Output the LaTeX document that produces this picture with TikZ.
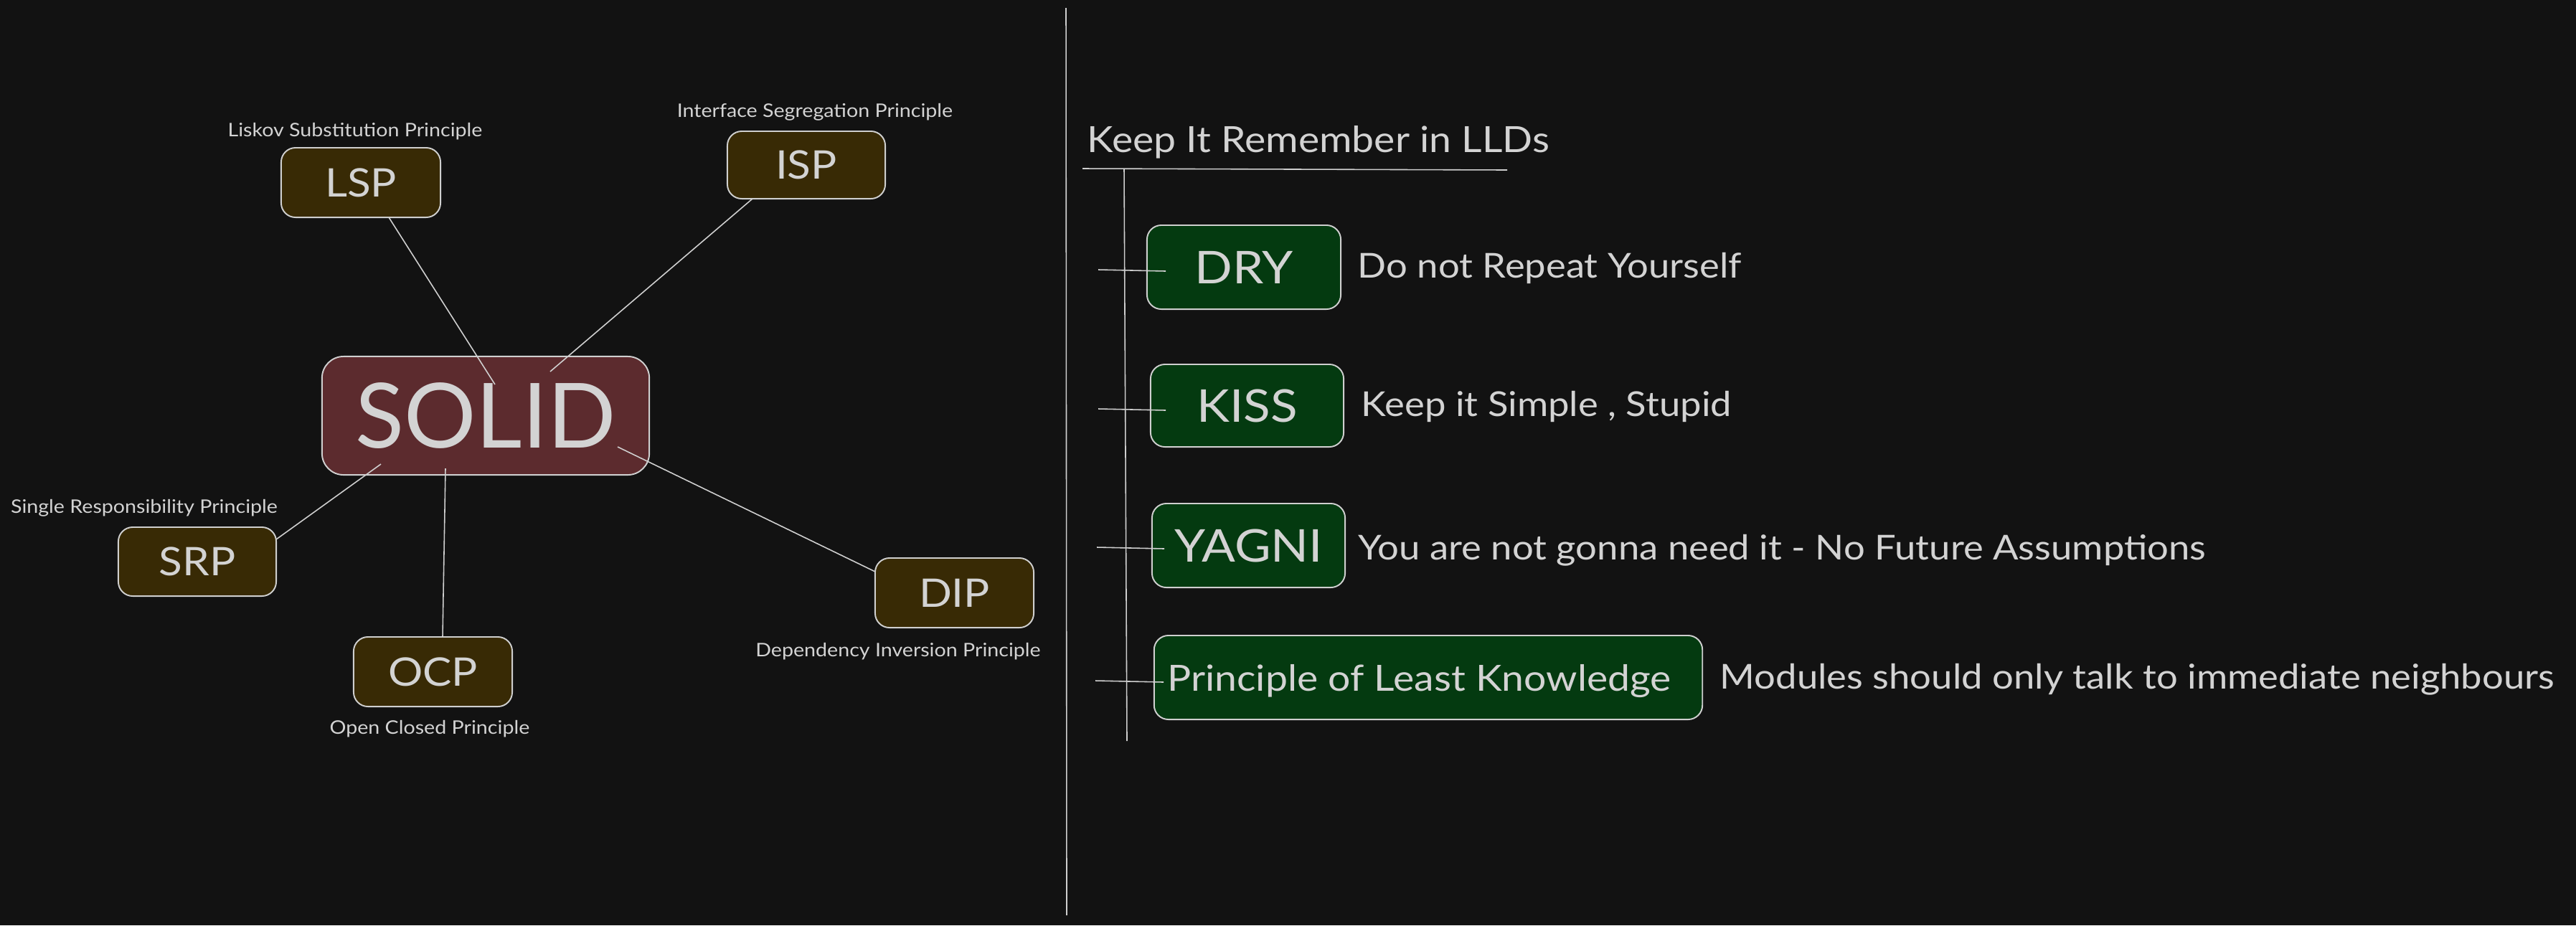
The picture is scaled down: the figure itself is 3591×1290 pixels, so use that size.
\documentclass[tikz,border=0pt]{standalone}
\usepackage{fontspec}
\setmainfont[FakeStretch=1.1]{Lato}
\definecolor{bg}{HTML}{121212}
\definecolor{ink}{HTML}{D3D3D3}
\definecolor{edge}{HTML}{CFCFCF}
\definecolor{solidfill}{HTML}{5C2B2E}
\definecolor{brown}{HTML}{382A05}
\definecolor{grn}{HTML}{043A10}
\begin{document}
\begin{tikzpicture}[x=0.01cm,y=-0.01cm,
  box/.style={draw=edge,line width=0.55pt,rounded corners=0.2cm,inner sep=0pt,text=ink,align=center,text depth=0pt},
  bigbox/.style={box,fill=solidfill,rounded corners=0.3cm,font=\fontsize{35.7}{40}\selectfont,text height=0.9cm},
  sbox/.style={box,fill=brown,font=\fontsize{15.6}{18}\selectfont,text height=0.39cm},
  gbox/.style={box,fill=grn,font=\fontsize{17.9}{21}\selectfont,text height=0.45cm},
  small/.style={text=ink,inner sep=0pt,anchor=base,font=\fontsize{7.4}{9}\selectfont},
  desc/.style={text=ink,inner sep=0pt,anchor=base west,font=\fontsize{13.6}{16}\selectfont},
  conn/.style={draw=edge,line width=0.45pt}]
\useasboundingbox (0,0) rectangle (3591,1290);
\fill[bg] (0,0) rectangle (3591,1290);

% left: SOLID mind map
\node[bigbox,minimum width=4.56cm,minimum height=1.65cm,font=\fontsize{35.7}{40}\selectfont\addfontfeature{FakeStretch=1.0}] (solid) at (677,579.5) {SOLID};
\node[sbox,minimum width=2.22cm,minimum height=0.97cm] (lsp) at (503,254.5) {LSP};
\node[sbox,minimum width=2.20cm,minimum height=0.94cm] (isp) at (1124,230) {ISP};
\node[sbox,minimum width=2.20cm,minimum height=0.96cm] (srp) at (275,783) {SRP};
\node[sbox,minimum width=2.21cm,minimum height=0.97cm] (ocp) at (603.5,936.5) {OCP};
\node[sbox,minimum width=2.21cm,minimum height=0.97cm] (dip) at (1330.5,826.5) {DIP};

\node[small] (lspl) at (495,190) {Liskov Substitution Principle};
\node[small] (ispl) at (1136,163) {Interface Segregation Principle};
\node[small] (srpl) at (201,715) {Single Responsibility Principle};
\node[small] (ocpl) at (599,1023) {Open Closed Principle};
\node[small] (dipl) at (1252,915) {Dependency Inversion Principle};

\coordinate (lspE) at (690,536);
\coordinate (ispE) at (767,518);
\coordinate (srpE) at (531,647);
\coordinate (ocpE) at (621,653);
\coordinate (dipE) at (861,623);
\coordinate (lspS) at (542,303);
\coordinate (ispS) at (1049,277);
\coordinate (srpS) at (385,752);
\coordinate (ocpS) at (617,888);
\coordinate (dipS) at (1220,797);
\draw[conn] (lspS) -- (lspE);
\draw[conn] (ispS) -- (ispE);
\draw[conn] (srpS) -- (srpE);
\draw[conn] (ocpS) -- (ocpE);
\draw[conn] (dipS) -- (dipE);

% divider
\coordinate (divT) at (1486,11);
\coordinate (divB) at (1487,1276);
\draw[conn] (divT) -- (divB);

% right: list
\node[text=ink,inner sep=0pt,anchor=base west,font=\fontsize{14.3}{17}\selectfont] (title) at (1515,212) {Keep It Remember in LLDs};
\coordinate (ulA) at (1509,235);
\coordinate (ulB) at (2101,237);
\draw[conn] (ulA) -- (ulB);
\coordinate (trT) at (1567,236);
\coordinate (trB) at (1571,1033);
\draw[conn] (trT) -- (trB);

\node[gbox,minimum width=2.70cm,minimum height=1.17cm] (dry) at (1734,372.5) {DRY};
\node[gbox,minimum width=2.69cm,minimum height=1.15cm] (kiss) at (1738.5,565.5) {KISS};
\node[gbox,minimum width=2.69cm,minimum height=1.17cm] (yagni) at (1740.5,760.5) {YAGNI};
\node[gbox,minimum width=7.64cm,minimum height=1.17cm,font=\fontsize{14.3}{17}\selectfont,text height=0.37cm] (polk) at (1991,944.5) {Principle of Least Knowledge\hspace*{0.25cm}};

\node[desc] (dryd) at (1892,387) {Do not Repeat Yourself};
\node[desc] (kissd) at (1897,580) {Keep it Simple , Stupid};
\node[desc] (yagnid) at (1893,780) {You are not gonna need it - No Future Assumptions};
\node[desc] (polkd) at (2397,960) {Modules should only talk to immediate neighbours};

\coordinate (t1a) at (1531,376); \coordinate (t1b) at (1625,378);
\coordinate (t2a) at (1531,570); \coordinate (t2b) at (1625,572);
\coordinate (t3a) at (1529,763); \coordinate (t3b) at (1623,765);
\coordinate (t4a) at (1527,949); \coordinate (t4b) at (1622,951);
\draw[conn] (t1a) -- (t1b);
\draw[conn] (t2a) -- (t2b);
\draw[conn] (t3a) -- (t3b);
\draw[conn] (t4a) -- (t4b);
\end{tikzpicture}
\end{document}
